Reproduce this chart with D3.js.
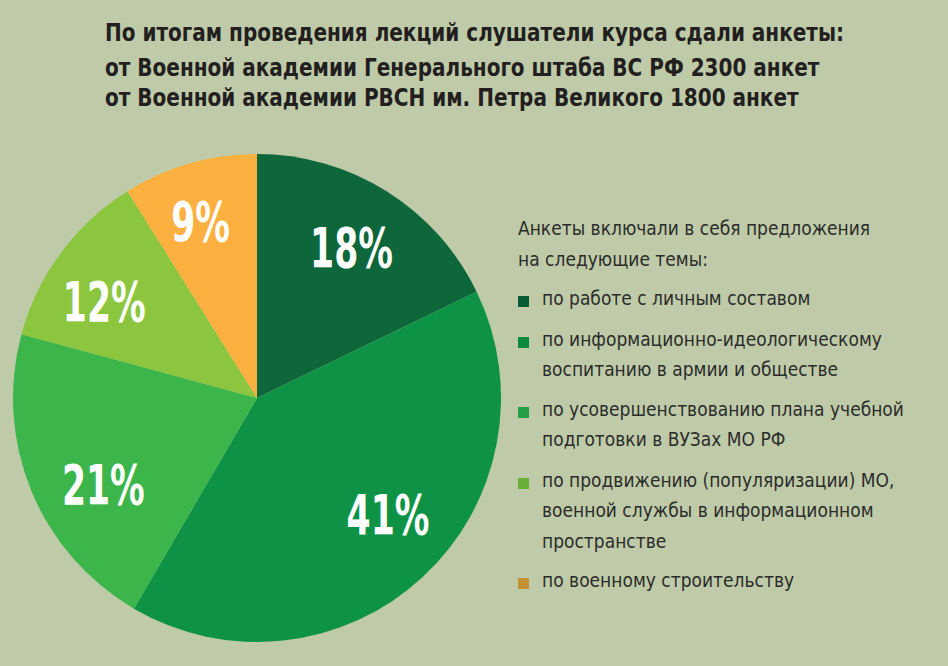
<!DOCTYPE html>
<html>
<head>
<meta charset="utf-8">
<script src="https://cdn.jsdelivr.net/npm/d3@7"></script>
<style>
  body { margin: 0; background: #bfcba8; }
  text { font-family: "DejaVu Sans Condensed", "DejaVu Sans", sans-serif; }
</style>
</head>
<body>
<div id="graf"></div>
<script>
var titleLines = [
  "По итогам проведения лекций слушатели курса сдали анкеты:",
  "от Военной академии Генерального штаба ВС РФ 2300 анкет",
  "от Военной академии РВСН им. Петра Великого 1800 анкет"
];
var topicLines = [
  ["по работе с личным составом"],
  ["по информационно-идеологическому", "воспитанию в армии и обществе"],
  ["по усовершенствованию плана учебной", "подготовки в ВУЗах МО РФ"],
  ["по продвижению (популяризации) МО,", "военной службы в информационном", "пространстве"],
  ["по военному строительству"]
];
var percents = [18, 41, 21, 12, 9];
var sliceColors = ["#0e673b", "#0e9346", "#3cb54b", "#8cc63f", "#fbb040"];
var keyColors = ["#0a5c33", "#078a3e", "#23a048", "#6aae3a", "#c39234"];
var legendHead = ["Анкеты включали в себя предложения", "на следующие темы:"];

var svg = d3.select("#graf").append("svg")
    .attr("width", 948)
    .attr("height", 666);

svg.append("rect")
    .attr("width", 948)
    .attr("height", 666)
    .attr("fill", "#bfcba8");

// заголовок (шрифт сжат по горизонтали, как в макете)
var titleY = [41, 76, 106];
svg.append("g")
    .attr("transform", "translate(105,0) scale(0.89,1)")
    .selectAll("text")
    .data(titleLines)
    .enter()
    .append("text")
    .attr("x", 0)
    .attr("y", function(d, i) {return titleY[i]})
    .attr("font-size", 25)
    .attr("font-weight", "bold")
    .attr("fill", "#231f20")
    .text(function(d) {return d});

// пирог
var cx = 257, cy = 398, r = 244;
var pie = d3.pie().sort(null).value(function(d) {return d});
var arcs = pie(percents);
var arc = d3.arc().innerRadius(0).outerRadius(r);

var g = svg.append("g").attr("transform", "translate(" + cx + "," + cy + ")");

g.selectAll("path")
    .data(arcs)
    .enter()
    .append("path")
    .attr("d", arc)
    .attr("fill", function(d, i) {return sliceColors[i]});

// подписи: радиус и поворот подобраны вручную
var labelR = [178, 175, 176, 181, 186];
var labelTurn = [0, -5.7, -6.9, -4.1, -1.6];
g.selectAll("g.pct")
    .data(arcs)
    .enter()
    .append("g")
    .attr("class", "pct")
    .attr("transform", function(d, i) {
        var a = (d.startAngle + d.endAngle) / 2 + labelTurn[i] * Math.PI / 180;
        var p = d3.pointRadial(a, labelR[i]);
        return "translate(" + p[0] + "," + p[1] + ") scale(0.7,1)";
    })
    .append("text")
    .attr("text-anchor", "middle")
    .attr("dy", "0.36em")
    .attr("font-size", 55)
    .attr("font-weight", "bold")
    .attr("fill", "#ffffff")
    .text(function(d) {return d.data + "%"});

// легенда
var legend = svg.append("g").attr("transform", "translate(518,0)");

legend.append("g")
    .attr("transform", "scale(0.95,1)")
    .selectAll("text")
    .data(legendHead)
    .enter()
    .append("text")
    .attr("x", 0)
    .attr("y", function(d, i) {return 235 + i * 31})
    .attr("font-size", 20)
    .attr("fill", "#2b2b2b")
    .text(function(d) {return d});

var itemY = [305, 346, 416, 487, 587];
var items = legend.selectAll("g.item")
    .data(topicLines)
    .enter()
    .append("g")
    .attr("class", "item")
    .attr("transform", function(d, i) {return "translate(0," + itemY[i] + ")"});

items.append("rect")
    .attr("x", 0)
    .attr("y", -9)
    .attr("width", 11)
    .attr("height", 11)
    .attr("fill", function(d, i) {return keyColors[i]});

items.append("g")
    .attr("transform", "translate(24,0) scale(0.95,1)")
    .selectAll("text")
    .data(function(d) {return d})
    .enter()
    .append("text")
    .attr("x", 0)
    .attr("y", function(d, i) {return i * 30.5})
    .attr("font-size", 20)
    .attr("fill", "#2b2b2b")
    .text(function(d) {return d});
</script>
</body>
</html>
